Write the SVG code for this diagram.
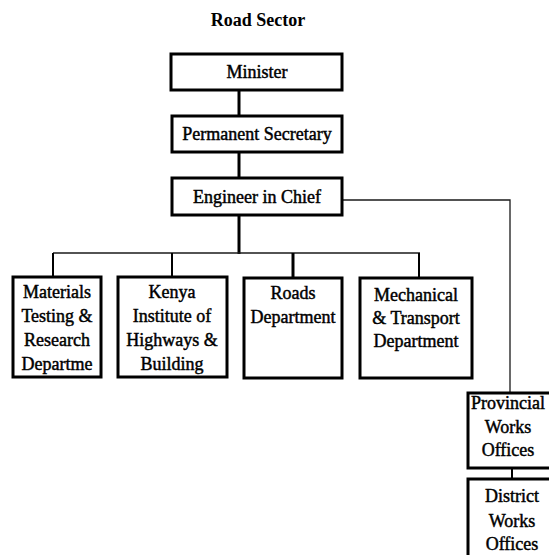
<svg xmlns="http://www.w3.org/2000/svg" width="549" height="555" viewBox="0 0 549 555">
  <style>
    .box { fill: #ffffff; stroke: #000000; stroke-width: 3; }
    .lbl { font-family: "Liberation Serif", "Times New Roman", serif; font-size: 18px; fill: #000000; stroke: #000000; stroke-width: 0.45; text-anchor: middle; }
    .title { font-family: "Liberation Serif", "Times New Roman", serif; font-size: 18px; font-weight: bold; fill: #000000; text-anchor: middle; }
    .spine { stroke: #000000; stroke-width: 3; fill: none; }
    .drop { stroke: #000000; stroke-width: 2; fill: none; }
    .thin { stroke: #1a1a1a; stroke-width: 1.3; fill: none; }
  </style>
  <rect width="549" height="555" fill="#ffffff"/>

  <text class="title" x="258" y="26">Road Sector</text>

  <!-- connectors -->
  <g id="connectors">
    <!-- main chain of command -->
    <line class="spine" x1="239" y1="90" x2="239" y2="116"/>
    <line class="spine" x1="239" y1="152" x2="239" y2="178"/>
    <line class="spine" x1="239" y1="215" x2="239" y2="254"/>
    <!-- bus to departments -->
    <line class="thin" x1="53" y1="253" x2="420" y2="253"/>
    <line class="drop" x1="53" y1="253" x2="53" y2="277"/>
    <line class="drop" x1="172" y1="253" x2="172" y2="277"/>
    <line class="spine" x1="293" y1="253" x2="293" y2="278"/>
    <line class="drop" x1="419" y1="253" x2="419" y2="278"/>
    <!-- branch to field offices -->
    <polyline class="thin" points="342,200 510,200 510,393"/>
    <line class="drop" x1="512" y1="468" x2="512" y2="479"/>
  </g>

  <g id="minister">
    <rect class="box" x="171" y="54" width="171" height="36"/>
    <text class="lbl" x="257" y="78">Minister</text>
  </g>

  <g id="permanent-secretary">
    <rect class="box" x="172" y="116" width="170" height="36"/>
    <text class="lbl" x="257" y="140">Permanent Secretary</text>
  </g>

  <g id="engineer-in-chief">
    <rect class="box" x="172" y="178" width="170" height="37"/>
    <text class="lbl" x="257" y="203">Engineer in Chief</text>
  </g>

  <g id="materials">
    <rect class="box" x="13" y="277" width="88" height="100"/>
    <text class="lbl" x="57" y="298">Materials</text>
    <text class="lbl" x="57" y="322">Testing &amp;</text>
    <text class="lbl" x="57" y="346">Research</text>
    <text class="lbl" x="57" y="370">Departme</text>
  </g>

  <g id="kenya-institute">
    <rect class="box" x="118" y="277" width="109" height="100"/>
    <text class="lbl" x="172" y="298">Kenya</text>
    <text class="lbl" x="172" y="322">Institute of</text>
    <text class="lbl" x="172" y="346">Highways &amp;</text>
    <text class="lbl" x="172" y="370">Building</text>
  </g>

  <g id="roads">
    <rect class="box" x="244" y="278" width="98" height="100"/>
    <text class="lbl" x="293" y="299">Roads</text>
    <text class="lbl" x="293" y="323">Department</text>
  </g>

  <g id="mechanical">
    <rect class="box" x="360" y="278" width="112" height="100"/>
    <text class="lbl" x="416" y="301">Mechanical</text>
    <text class="lbl" x="416" y="324">&amp; Transport</text>
    <text class="lbl" x="416" y="347">Department</text>
  </g>

  <g id="provincial">
    <rect class="box" x="468" y="393" width="85" height="75"/>
    <text class="lbl" x="508" y="409">Provincial</text>
    <text class="lbl" x="508" y="433">Works</text>
    <text class="lbl" x="508" y="456">Offices</text>
  </g>

  <g id="district">
    <rect class="box" x="468" y="479" width="85" height="80"/>
    <text class="lbl" x="512" y="502">District</text>
    <text class="lbl" x="512" y="527">Works</text>
    <text class="lbl" x="512" y="550">Offices</text>
  </g>
</svg>
